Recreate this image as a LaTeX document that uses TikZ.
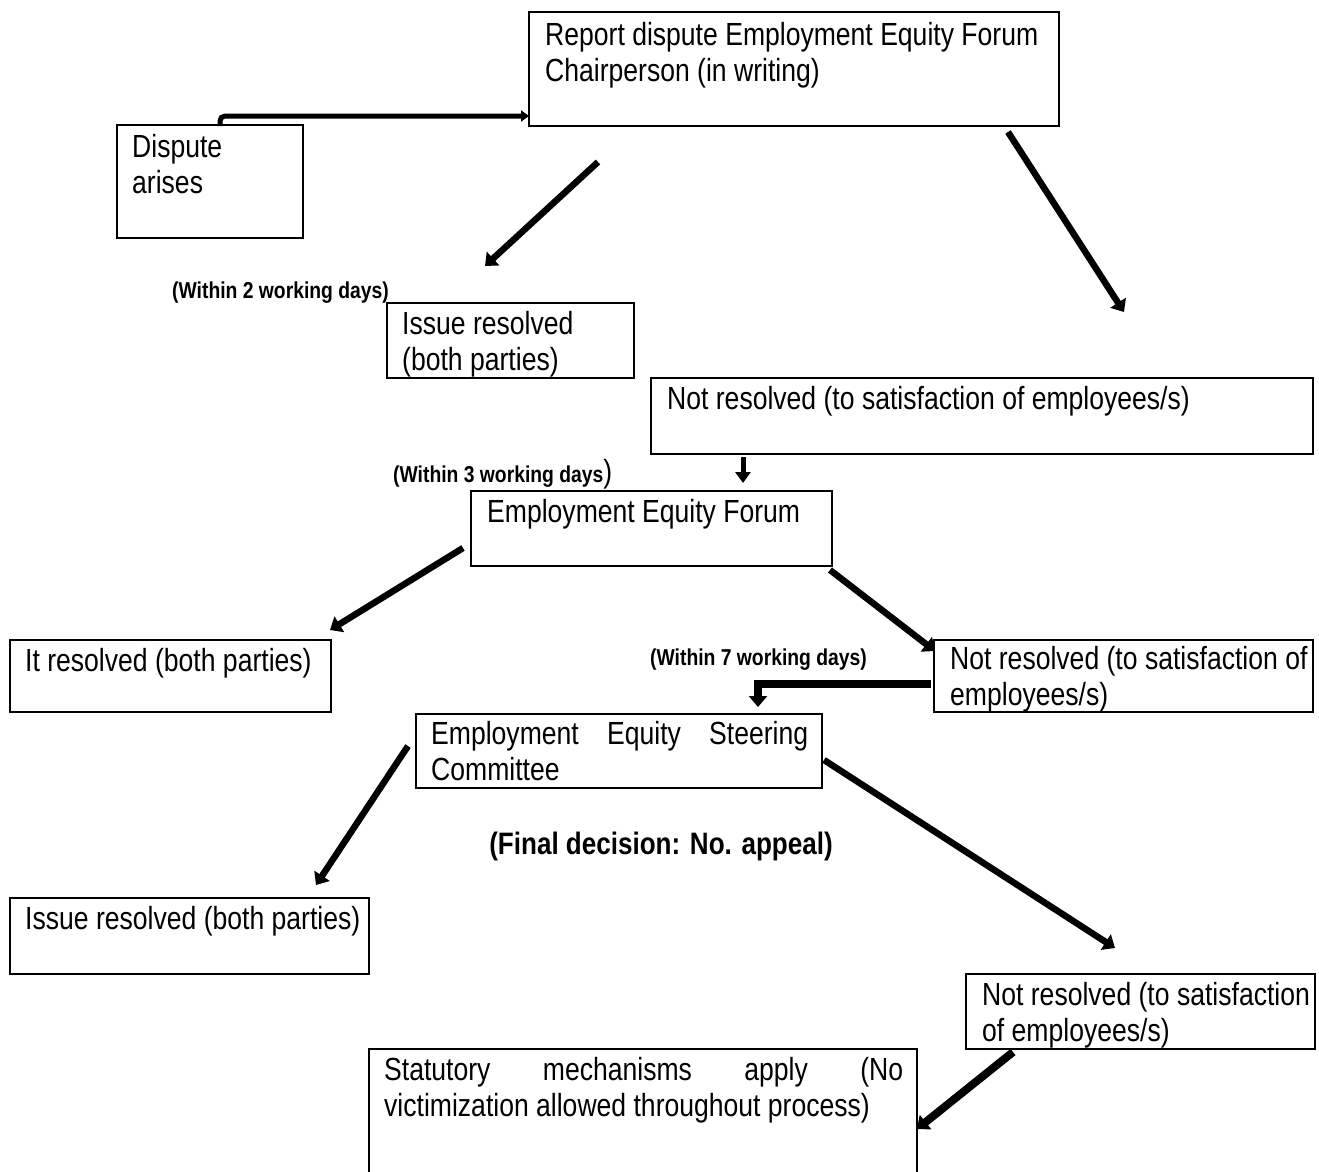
\documentclass[tikz,border=0pt]{standalone}
\usepackage{fontspec}
\setmainfont{Liberation Sans}[FakeStretch=0.83]
\newfontfamily\lblfont{Liberation Sans}[FakeStretch=0.84]
\newfontfamily\finfont{Liberation Sans}[FakeStretch=0.84]
\usetikzlibrary{arrows.meta}
\tikzset{
  boxnode/.style={draw, line width=2pt, anchor=north west, inner sep=0pt, outer sep=0pt},
  txt/.style={anchor=north west, inner sep=0pt, align=left, font=\fontsize{32}{36}\selectfont},
  lbl/.style={inner sep=0pt, anchor=base west, font=\lblfont\bfseries\fontsize{23}{26}\selectfont},
  conn/.style={line width=6.5pt, -{Triangle[length=11pt,width=18pt]}},
}
\begin{document}
\begin{tikzpicture}[x=1pt,y=-1pt]
\useasboundingbox (0,0) rectangle (1319,1171);
% boxes
\node[boxnode, minimum width=530pt, minimum height=114pt] (report) at (529,12) {};
\node[boxnode, minimum width=186pt, minimum height=113pt] (dispute) at (117,125) {};
\node[boxnode, minimum width=247pt, minimum height=75pt] (res1) at (387,303) {};
\node[boxnode, minimum width=662pt, minimum height=76pt] (nr1) at (651,378) {};
\node[boxnode, minimum width=361pt, minimum height=75pt] (eef) at (471,491) {};
\node[boxnode, minimum width=321pt, minimum height=72pt] (res2) at (10,640) {};
\node[boxnode, minimum width=379pt, minimum height=72pt] (nr2) at (934,640) {};
\node[boxnode, minimum width=406pt, minimum height=74pt] (eesc) at (416,714) {};
\node[boxnode, minimum width=359pt, minimum height=76pt] (res3) at (10,898) {};
\node[boxnode, minimum width=349pt, minimum height=75pt] (nr3) at (966,974) {};
\node[boxnode, minimum width=548pt, minimum height=126pt] (stat) at (369,1049) {};
% texts
\node[txt] (treport) at (545,22) {Report dispute Employment Equity Forum\\Chairperson (in writing)};
\node[txt] (tdispute) at (132,134) {Dispute\\arises};
\node[txt] (tres1) at (402,311) {Issue resolved\\(both parties)};
\node[txt] (tnr1) at (667,386) {Not resolved (to satisfaction of employees/s)};
\node[txt] (teef) at (487,499) {Employment Equity Forum};
\node[txt] (tres2) at (25,648) {It resolved (both parties)};
\node[txt] (tnr2) at (950,646) {Not resolved (to satisfaction of\\employees/s)};
\node[txt] (teesc) at (431,721) {\makebox[377pt][s]{Employment Equity Steering}\\Committee};
\node[txt] (tres3) at (25,906) {Issue resolved (both parties)};
\node[txt] (tnr3) at (982,982) {Not resolved (to satisfaction\\of employees/s)};
\node[txt] (tstat) at (384,1057) {\makebox[519pt][s]{Statutory mechanisms apply (No}\\victimization allowed throughout process)};
% labels
\node[lbl] (l2) at (172,298) {(Within 2 working days)};
\node[lbl] (l3) at (393,482) {(Within 3 working days{\normalfont\bfseries\mdseries\fontsize{32}{36}\selectfont)}};
\node[lbl] (l7) at (650,665) {(Within 7 working days)};
\node[inner sep=0pt, anchor=base, font=\finfont\bfseries\fontsize{31}{36}\selectfont] (final) at (661,854) {(Final decision: No. appeal)};
% connector end points
\coordinate (a1) at (220,126);
\coordinate (a2) at (529,116);
\coordinate (b1) at (598,162);
\coordinate (b2) at (485,266);
\coordinate (c1) at (1008,132);
\coordinate (c2) at (1124,312);
\coordinate (d1) at (743,457);
\coordinate (d2) at (743,483);
\coordinate (e1) at (463,548);
\coordinate (e2) at (330,630);
\coordinate (f1) at (830,570);
\coordinate (f2) at (935,651);
\coordinate (g1) at (931,684);
\coordinate (g2) at (758,707);
\coordinate (h1) at (408,746);
\coordinate (h2) at (316,885);
\coordinate (i1) at (824,760);
\coordinate (i2) at (1115,948);
\coordinate (j1) at (1013,1052);
\coordinate (j2) at (917,1129);
% connectors
\draw[line width=5pt, rounded corners=5pt, -{Triangle[length=8pt,width=11pt]}] (a1) |- (a2);
\draw[conn] (b1) -- (b2);
\draw[conn] (c1) -- (c2);
\draw[line width=5pt, -{Triangle[length=11pt,width=15pt]}] (d1) -- (d2);
\draw[conn] (e1) -- (e2);
\draw[conn] (f1) -- (f2);
\draw[line width=8pt, -{Triangle[length=11pt,width=18pt]}] (g1) -| (g2);
\draw[conn] (h1) -- (h2);
\draw[conn] (i1) -- (i2);
\draw[line width=8pt, -{Triangle[length=11pt,width=18pt]}] (j1) -- (j2);
\end{tikzpicture}
\end{document}
